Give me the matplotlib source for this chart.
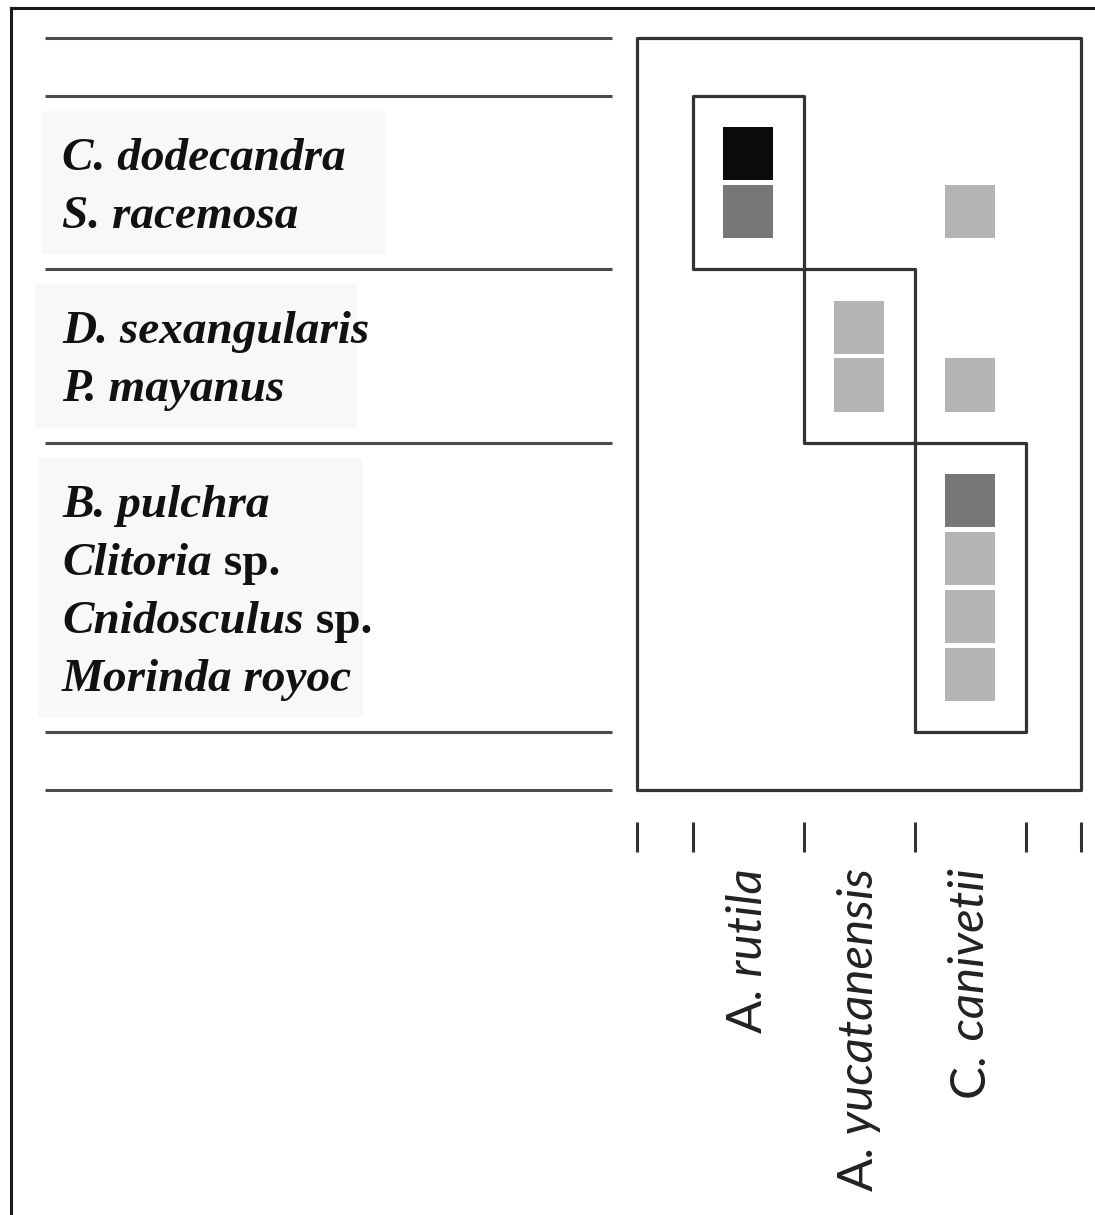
import numpy as np
import matplotlib.pyplot as plt
from matplotlib.patches import Rectangle
from matplotlib.lines import Line2D
import matplotlib.transforms as mtransforms

# plants (rows), genus part in italics, suffix upright
plant_names = ['C. dodecandra', 'S. racemosa', 'D. sexangularis', 'P. mayanus',
               'B. pulchra', 'Clitoria', 'Cnidosculus', 'Morinda royoc']
plant_suffix = ['', '', '', '', '', ' sp.', ' sp.', '']
plant_module = [0, 0, 1, 1, 2, 2, 2, 2]

# hummingbirds (columns)
bird_abbr = ['A.', 'A.', 'C.']
bird_species = [' rutila', ' yucatanensis', ' canivetii']
bird_module = [0, 1, 2]

# interaction strength (0 = none)
links = np.array([
    [3, 0, 0],
    [2, 0, 1],
    [0, 1, 0],
    [0, 1, 1],
    [0, 0, 2],
    [0, 0, 1],
    [0, 0, 1],
    [0, 0, 1],
])
shade = {1: '#b4b4b4', 2: '#777777', 3: '#0b0b0b'}

fig = plt.figure(figsize=(10.95, 12.15), dpi=100)
W, H = 1095.0, 1215.0

def fig_rect(x0, y0, x1, y1):
    return [x0 / W, 1 - y1 / H, (x1 - x0) / W, (y1 - y0) / H]

ax = fig.add_axes(fig_rect(637, 38, 1081, 790))
axl = fig.add_axes(fig_rect(45, 38, 612, 790))

# row layout: 1 unit margin, each module has half a unit padding
n_mod = max(plant_module) + 1
row_y = []
mod_edges = []
y = 1.0
for m in range(n_mod):
    top = y
    y += 0.5
    for i, pm in enumerate(plant_module):
        if pm == m:
            row_y.append(y + 0.5)
            y += 1
    y += 0.5
    mod_edges.append((top, y))
y_total = y + 1.0
col_x = [2 * c + 2 for c in range(len(bird_species))]
x_total = 2 * len(bird_species) + 2

ax.set_xlim(0, x_total)
ax.set_ylim(y_total, 0)
axl.set_xlim(0, 1)
axl.set_ylim(y_total, 0)

edge = '#333333'
ax.add_patch(Rectangle((0, 0), x_total, y_total, fill=False, ec=edge, lw=2.3,
                       joinstyle='round', clip_on=False, zorder=3))
for m, (t, b) in enumerate(mod_edges):
    c = bird_module.index(m)
    ax.add_patch(Rectangle((col_x[c] - 1, t), 2, b - t, fill=False, ec=edge,
                           lw=2.3, joinstyle='round', zorder=3))

cw, ch = 0.9, 0.92
for i in range(len(plant_names)):
    for j in range(len(bird_species)):
        v = links[i, j]
        if v:
            ax.add_patch(Rectangle((col_x[j] - cw / 2, row_y[i] - ch / 2), cw, ch,
                                   fc=shade[v], ec='none', zorder=2))

for s in ax.spines.values():
    s.set_visible(False)
ax.spines['bottom'].set_position(('outward', 23))
ticks = [0, 1] + [cx + 1 for cx in col_x[:-1]] + [x_total - 1, x_total]
ax.set_xticks(ticks)
ax.set_xticklabels([])
ax.set_yticks([])
ax.tick_params(axis='x', direction='out', length=21.5, width=2.2, color=edge)

trans = mtransforms.blended_transform_factory(ax.transData, ax.transAxes)
for j in range(len(bird_species)):
    t = ax.text(col_x[j], -0.104, bird_species[j], transform=trans, rotation=90,
                ha='center', va='top', fontsize=35.5, family='Lato', style='italic',
                color='#222222')
    ax.annotate(bird_abbr[j], xy=(0.5, 0), xycoords=t, rotation=90,
                ha='center', va='top', fontsize=35.5, family='Lato', color='#222222')

# left panel: module separators and plant names
bounds = [0.0] + [t for t, b in mod_edges] + [mod_edges[-1][1], y_total]
for yb in bounds:
    axl.plot([0, 1], [yb, yb], color='#4a4a4a', lw=2.2, solid_capstyle='butt',
             clip_on=False)
bg_left = [-0.005, -0.018, -0.012]
bg_right = [0.6, 0.55, 0.56]
for m, (t, b) in enumerate(mod_edges):
    axl.add_patch(Rectangle((bg_left[m], t + 0.26), bg_right[m] - bg_left[m],
                            b - t - 0.52, fc='#f8f8f8', ec='none',
                            clip_on=False, zorder=0))
axl.axis('off')

for i, name in enumerate(plant_names):
    t = axl.text(0.03, row_y[i] + 0.28, name, ha='left', va='baseline',
                 fontsize=34, family='Liberation Serif', weight='bold',
                 style='italic', color='#111111')
    if plant_suffix[i]:
        axl.annotate(plant_suffix[i], xy=(1, 0), xycoords=t, ha='left', va='bottom',
                     fontsize=34, family='Liberation Serif', weight='bold',
                     color='#111111')

# outer frame of the figure
fig.add_artist(Line2D([11 / W, 11 / W], [0, 1 - 8 / H], color='#1a1a1a', lw=2.2))
fig.add_artist(Line2D([11 / W, 1], [1 - 8 / H, 1 - 8 / H], color='#1a1a1a', lw=2.2))

fig.savefig('out.png', dpi=100)
